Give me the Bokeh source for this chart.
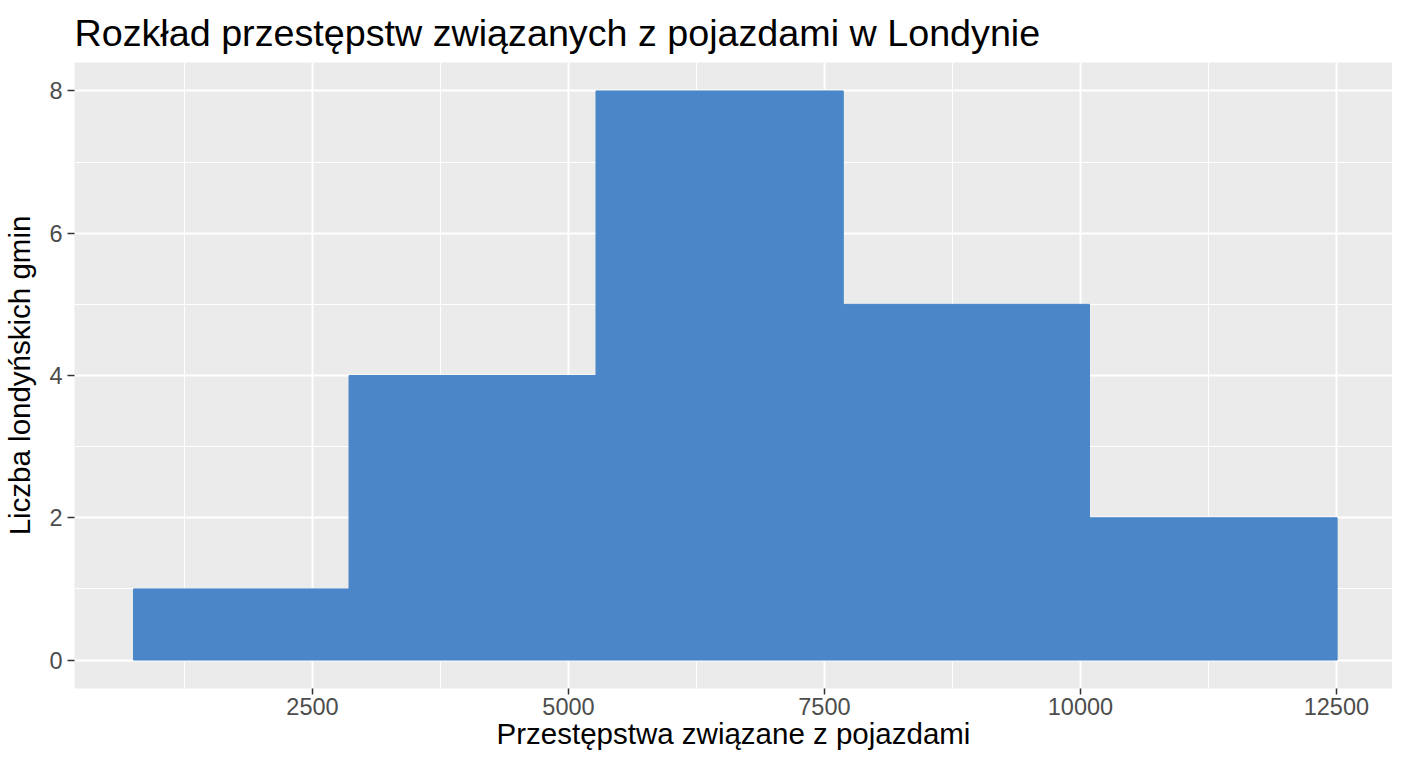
from bokeh.plotting import figure
from bokeh.models import FixedTicker, ColumnDataSource, Range1d
from bokeh.embed import file_html
from bokeh.resources import INLINE

# Histogram data (bin edges)
bin_left = [752, 2857, 5269, 7684, 10088]
bin_right = [2857, 5269, 7684, 10088, 12507]
counts = [1, 4, 8, 5, 2]

x_ticks = [2500, 5000, 7500, 10000, 12500]
x_minor = [1250, 3750, 6250, 8750, 11250]
y_ticks = [0, 2, 4, 6, 8]
y_minor = [1, 3, 5, 7]

title_text = "Rozkład przestępstw związanych z pojazdami w Londynie"
x_label = "Przestępstwa związane z pojazdami"
y_label = "Liczba londyńskich gmin"

FONT = "Liberation Sans"
BAR = "#4A86C8"

src = ColumnDataSource(dict(left=bin_left, right=bin_right, top=counts,
                            bottom=[0] * len(counts)))

span = bin_right[-1] - bin_left[0]
ypad = max(counts) * 0.05

p = figure(width=1392, height=752, output_backend="svg", toolbar_location=None,
           x_range=Range1d(bin_left[0] - span * 0.049, bin_right[-1] + span * 0.046),
           y_range=Range1d(-ypad, max(counts) + ypad),
           title=title_text,
           min_border_left=0, min_border_right=0, min_border_top=0, min_border_bottom=0)

p.background_fill_color = "#EBEBEB"
p.border_fill_color = "white"
p.outline_line_color = None

p.title.text_font = FONT
p.title.text_font_size = "37.7px"
p.title.text_font_style = "normal"
p.title.text_color = "black"
p.title.align = "left"
p.title.offset = 0
p.title.standoff = 18

p.quad(left="left", right="right", top="top", bottom="bottom", source=src,
       fill_color=BAR, line_color=BAR, line_width=1)

p.xaxis.ticker = FixedTicker(ticks=x_ticks, minor_ticks=x_minor)
p.yaxis.ticker = FixedTicker(ticks=y_ticks, minor_ticks=y_minor)

for ax in (p.xaxis[0], p.yaxis[0]):
    ax.axis_line_color = None
    ax.major_tick_line_color = "#333333"
    ax.major_tick_line_width = 1.5
    ax.major_tick_out = 7
    ax.major_tick_in = 0
    ax.minor_tick_line_color = None
    ax.major_label_text_font = FONT
    ax.major_label_text_font_size = "23.5px"
    ax.major_label_text_color = "#4D4D4D"
    ax.axis_label_text_font = FONT
    ax.axis_label_text_font_size = "29.5px"
    ax.axis_label_text_font_style = "normal"
    ax.axis_label_text_color = "black"

p.xaxis.axis_label = x_label
p.yaxis.axis_label = y_label
p.xaxis.major_tick_out = 6
p.xaxis.major_label_standoff = 3
p.xaxis.axis_label_standoff = -1
p.yaxis.major_label_standoff = 5
p.yaxis.axis_label_standoff = 10

for g in (p.xgrid[0], p.ygrid[0]):
    g.grid_line_color = "white"
    g.grid_line_width = 2
    g.minor_grid_line_color = "white"
    g.minor_grid_line_width = 1

open("out.html", "w").write(file_html(p, INLINE))
